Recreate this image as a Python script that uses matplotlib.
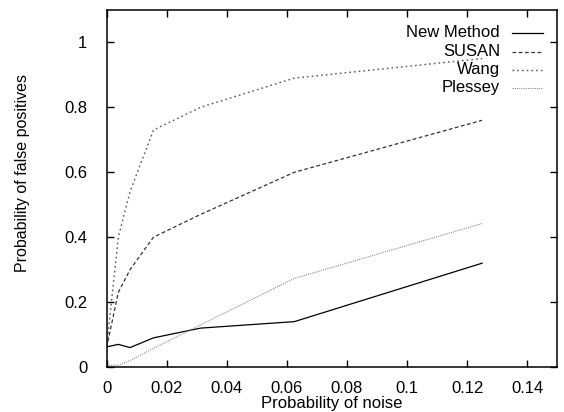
import matplotlib
matplotlib.use("Agg")
import matplotlib.pyplot as plt

plt.rcParams['font.family'] = ['Liberation Sans', 'DejaVu Sans']

# noise probabilities and false positive rates
noise = [0, 0.0039, 0.0078, 0.0156, 0.03125, 0.0625, 0.125]
new_method = [0.062, 0.07, 0.06, 0.09, 0.12, 0.14, 0.32]
susan = [0.06, 0.23, 0.30, 0.40, 0.47, 0.60, 0.76]
wang = [0.06, 0.40, 0.54, 0.73, 0.80, 0.89, 0.95]
plessey = [0.006, 0.006, 0.02, 0.058, 0.13, 0.273, 0.442]

labels = ["New Method", "SUSAN", "Wang", "Plessey"]
x_ticks = [0, 0.02, 0.04, 0.06, 0.08, 0.1, 0.12, 0.14]
x_ticklabels = ["0", "0.02", "0.04", "0.06", "0.08", "0.1", "0.12", "0.14"]
y_ticks = [0, 0.2, 0.4, 0.6, 0.8, 1]
y_ticklabels = ["0", "0.2", "0.4", "0.6", "0.8", "1"]

fig = plt.figure(figsize=(5.64, 4.12), dpi=100)
ax = fig.add_axes([0.189, 0.109, 0.799, 0.867])

styles = [
    dict(color="black", linestyle="-", linewidth=0.9),
    dict(color="#333333", linestyle=(0, (3, 2)), linewidth=0.9),
    dict(color="#555555", linestyle=(0, (1.2, 2.2)), linewidth=1.0),
    dict(color="#888888", linestyle=(0, (1, 1)), linewidth=0.8),
]
series = [new_method, susan, wang, plessey]
for s, st in zip(series, styles):
    ax.plot(noise, s, **st)

# gnuplot-style key: label right-aligned, sample line to the right
rows = [0.936, 0.883, 0.832, 0.782]
for lab, st, yy in zip(labels, styles, rows):
    ax.text(0.873, yy, lab, ha="right", va="center", fontsize=12,
            transform=ax.transAxes)
    ax.plot([0.899, 0.969], [yy, yy], transform=ax.transAxes, **st)

ax.set_xlim(0, 0.15)
ax.set_ylim(0, 1.1)
ax.set_xticks(x_ticks)
ax.set_xticklabels(x_ticklabels)
ax.set_yticks(y_ticks)
ax.set_yticklabels(y_ticklabels)
ax.tick_params(direction="in", length=5, width=1, top=True, right=True,
               labelsize=12)
ax.tick_params(axis="x", pad=10)
ax.tick_params(axis="y", pad=14)
for sp in ax.spines.values():
    sp.set_linewidth(1.1)

ax.set_xlabel("Probability of noise", fontsize=12, labelpad=0)
ax.set_ylabel("Probability of false positives", fontsize=11.5)
ax.yaxis.set_label_coords(-0.170, 0.543)

fig.savefig("out.png", dpi=100)
